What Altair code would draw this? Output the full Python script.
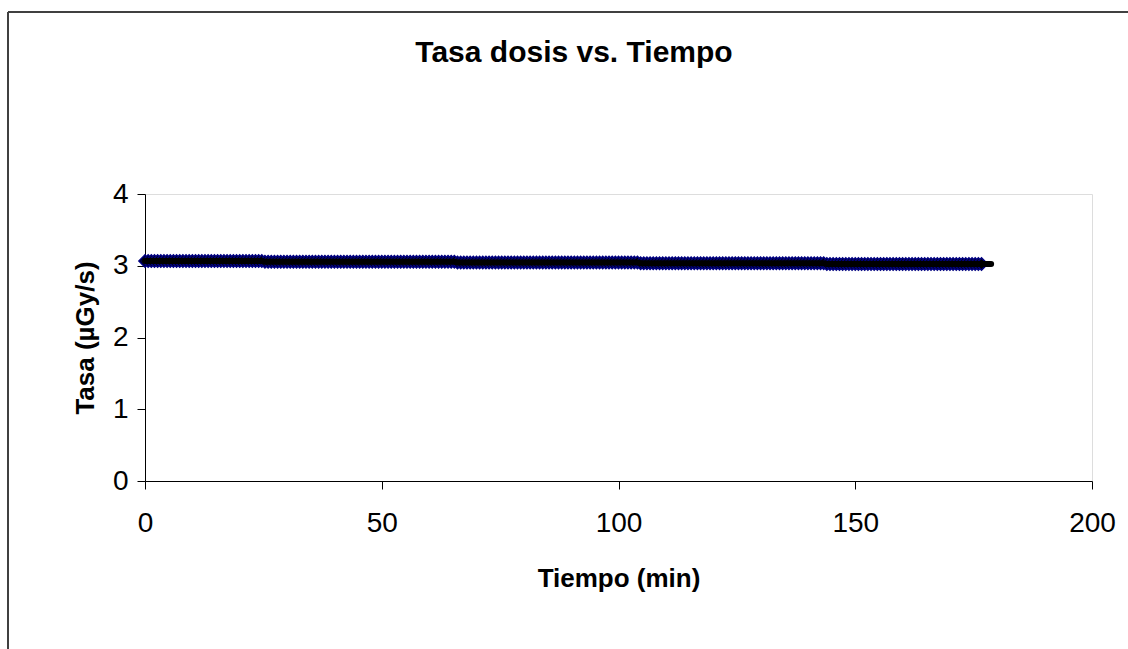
import altair as alt
import pandas as pd

# Sampling every 40 s (2/3 min)
STEP_MIN = 40 / 60
tasa = [
    # 0 - 24.7 min
    3.066, 3.066, 3.066, 3.066, 3.066, 3.066, 3.066, 3.066, 3.066, 3.066,
    3.066, 3.066, 3.066, 3.066, 3.066, 3.066, 3.066, 3.066, 3.066, 3.066,
    3.066, 3.066, 3.066, 3.066, 3.066, 3.066, 3.066, 3.066, 3.066, 3.066,
    3.066, 3.066, 3.066, 3.066, 3.066, 3.066, 3.066, 3.066,
    # 25.3 - 65.3 min
    3.056, 3.056, 3.056, 3.056, 3.056, 3.056, 3.056, 3.056, 3.056, 3.056,
    3.056, 3.056, 3.056, 3.056, 3.056, 3.056, 3.056, 3.056, 3.056, 3.056,
    3.056, 3.056, 3.056, 3.056, 3.056, 3.056, 3.056, 3.056, 3.056, 3.056,
    3.056, 3.056, 3.056, 3.056, 3.056, 3.056, 3.056, 3.056, 3.056, 3.056,
    3.056, 3.056, 3.056, 3.056, 3.056, 3.056, 3.056, 3.056, 3.056, 3.056,
    3.056, 3.056, 3.056, 3.056, 3.056, 3.056, 3.056, 3.056, 3.056, 3.056,
    3.056,
    # 66 - 104 min
    3.045, 3.045, 3.045, 3.045, 3.045, 3.045, 3.045, 3.045, 3.045, 3.045,
    3.045, 3.045, 3.045, 3.045, 3.045, 3.045, 3.045, 3.045, 3.045, 3.045,
    3.045, 3.045, 3.045, 3.045, 3.045, 3.045, 3.045, 3.045, 3.045, 3.045,
    3.045, 3.045, 3.045, 3.045, 3.045, 3.045, 3.045, 3.045, 3.045, 3.045,
    3.045, 3.045, 3.045, 3.045, 3.045, 3.045, 3.045, 3.045, 3.045, 3.045,
    3.045, 3.045, 3.045, 3.045, 3.045, 3.045, 3.045, 3.045,
    # 104.7 - 143.3 min
    3.035, 3.035, 3.035, 3.035, 3.035, 3.035, 3.035, 3.035, 3.035, 3.035,
    3.035, 3.035, 3.035, 3.035, 3.035, 3.035, 3.035, 3.035, 3.035, 3.035,
    3.035, 3.035, 3.035, 3.035, 3.035, 3.035, 3.035, 3.035, 3.035, 3.035,
    3.035, 3.035, 3.035, 3.035, 3.035, 3.035, 3.035, 3.035, 3.035, 3.035,
    3.035, 3.035, 3.035, 3.035, 3.035, 3.035, 3.035, 3.035, 3.035, 3.035,
    3.035, 3.035, 3.035, 3.035, 3.035, 3.035, 3.035, 3.035, 3.035,
    # 144 - 176.7 min
    3.024, 3.024, 3.024, 3.024, 3.024, 3.024, 3.024, 3.024, 3.024, 3.024,
    3.024, 3.024, 3.024, 3.024, 3.024, 3.024, 3.024, 3.024, 3.024, 3.024,
    3.024, 3.024, 3.024, 3.024, 3.024, 3.024, 3.024, 3.024, 3.024, 3.024,
    3.024, 3.024, 3.024, 3.024, 3.024, 3.024, 3.024, 3.024, 3.024, 3.024,
    3.024, 3.024, 3.024, 3.024, 3.024, 3.024, 3.024, 3.024, 3.024, 3.024,
]
tiempo = [round(i * STEP_MIN, 3) for i in range(len(tasa))]
# final reading (line only, no marker)
tiempo_final = [178.7]
tasa_final = [3.024]

x_ticks = [0, 50, 100, 150, 200]
y_ticks = [0, 1, 2, 3, 4]
titulo = ["Tasa dosis vs. Tiempo"]

pts = pd.DataFrame({"t": tiempo, "v": tasa})
line_df = pd.DataFrame({"t": tiempo + tiempo_final, "v": tasa + tasa_final})

FONT = "Liberation Sans"

x_enc = alt.X("t:Q", scale=alt.Scale(domain=[0, 200], nice=False),
              axis=alt.Axis(values=x_ticks, format="d", title="Tiempo (min)", grid=False,
                            domainColor="black", tickColor="black", tickSize=8,
                            labelFlush=False,
                            labelFontSize=28, labelPadding=20, labelColor="black",
                            titleFontSize=26, titleFontWeight="bold", titlePadding=28,
                            titleColor="black", labelFont=FONT, titleFont=FONT))
y_enc = alt.Y("v:Q", scale=alt.Scale(domain=[0, 4], nice=False),
              axis=alt.Axis(values=y_ticks, format="d", title="Tasa (µGy/s)", grid=False,
                            domainColor="black", tickColor="black", tickSize=8,
                            labelFontSize=28, labelPadding=9, labelColor="black",
                            titleFontSize=26, titleFontWeight="bold", titlePadding=14,
                            titleColor="black", labelFont=FONT, titleFont=FONT))

points = alt.Chart(pts).mark_point(shape="diamond", filled=True, fill="black",
                                   stroke="#000080", strokeWidth=1.5, size=150,
                                   opacity=1).encode(x=x_enc, y=y_enc)
line = alt.Chart(line_df).mark_line(color="black", strokeWidth=6,
                                    strokeCap="round").encode(x="t:Q", y="v:Q")

border_df = pd.DataFrame({"k": [0]})
top_border = alt.Chart(border_df).mark_rule(color="black", strokeWidth=1.5, clip=False).encode(
    x=alt.value(-137), x2=alt.value(1000), y=alt.value(-182))
left_border = alt.Chart(border_df).mark_rule(color="#404040", strokeWidth=2, clip=False).encode(
    x=alt.value(-137), y=alt.value(-182), y2=alt.value(470))

title_df = pd.DataFrame({"txt": titulo})
title_mark = alt.Chart(title_df).mark_text(font=FONT, fontSize=30, fontWeight="bold",
                                           color="black", align="center",
                                           baseline="alphabetic").encode(
    text="txt:N", x=alt.value(429), y=alt.value(-132))

chart = alt.layer(points, line, top_border, left_border, title_mark).properties(
    width=947, height=287,
    autosize=alt.AutoSizeParams(type="none"),
    padding={"left": 145, "top": 194, "right": 36, "bottom": 168},
).configure_view(stroke="#808080", strokeWidth=2).configure(background="white")

chart.save("out.html", embed_options={"renderer": "svg", "actions": False})
